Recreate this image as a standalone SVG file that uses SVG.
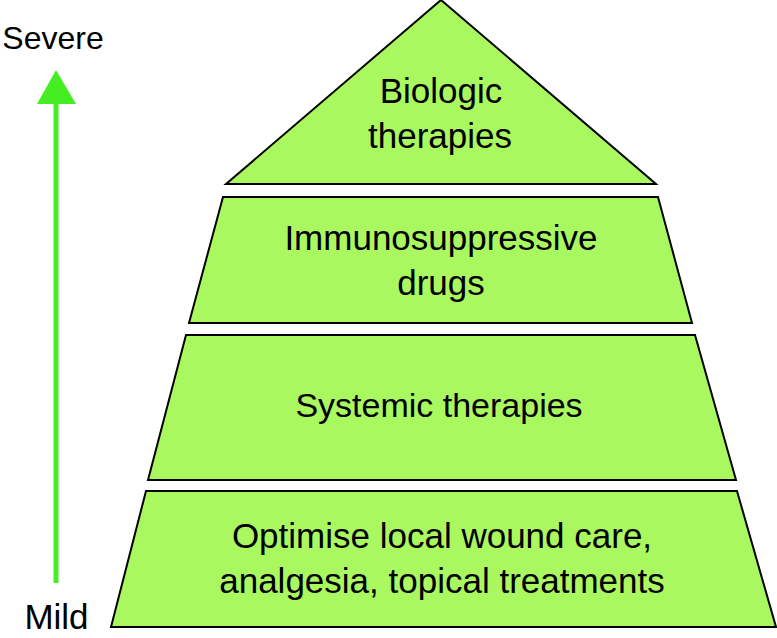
<svg xmlns="http://www.w3.org/2000/svg" width="777" height="638" viewBox="0 0 777 638">
<style>
.tier{fill:#AAF85F;stroke:#000;stroke-width:2;stroke-linejoin:miter}
.t{font-family:"Liberation Sans",Arial,sans-serif;font-size:35px;fill:#000;text-anchor:middle}
.arrow{fill:#44EE22}
</style>
<rect width="777" height="638" fill="#fff"/>
<g id="connectors">
<rect class="arrow" x="53.5" y="100" width="5" height="483"/>
<polygon class="arrow" points="56,70 37,104 76,104"/>
</g>
<g id="label-severe"><text class="t" x="53" y="49" style="font-size:32px">Severe</text></g>
<g id="label-mild"><text class="t" x="56.5" y="629">Mild</text></g>
<g id="tier-biologic">
<polygon class="tier" points="441,0 226,184 656,184"/>
<text class="t" x="441" y="103">Biologic</text>
<text class="t" x="440" y="148">therapies</text>
</g>
<g id="tier-immuno">
<polygon class="tier" points="223,197 658,197 692,323 189,323"/>
<text class="t" x="441" y="250">Immunosuppressive</text>
<text class="t" x="441" y="295">drugs</text>
</g>
<g id="tier-systemic">
<polygon class="tier" points="186,335 695,335 736,480 148,480"/>
<text class="t" x="439" y="417" style="font-size:34px">Systemic therapies</text>
</g>
<g id="tier-local">
<polygon class="tier" points="146,491 737,491 776,627 111,627"/>
<text class="t" x="442" y="548">Optimise local wound care,</text>
<text class="t" x="442" y="593">analgesia, topical treatments</text>
</g>
</svg>
